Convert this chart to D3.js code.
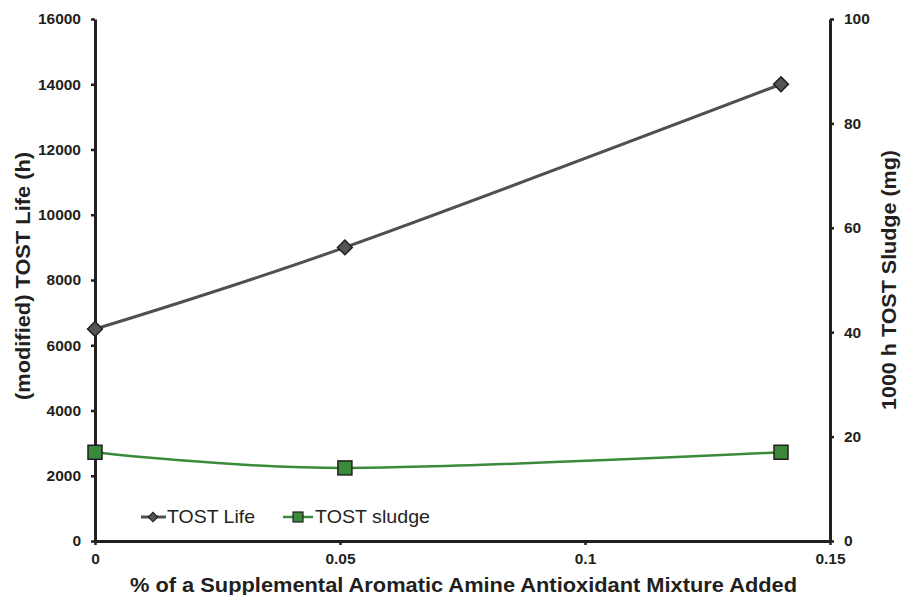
<!DOCTYPE html>
<html><head><meta charset="utf-8">
<script src="https://cdn.jsdelivr.net/npm/d3@7"></script>
<style>body{margin:0;background:#fff}svg{display:block}</style>
</head><body>
<svg id="c" width="902" height="595"></svg>
<script>
const xValues = [0, 0.051, 0.14];
const tostLife = [6500, 9000, 14000];
const tostSludge = [17, 14, 17];
const xTicks = [0, 0.05, 0.1, 0.15];
const yLeftTicks = [0, 2000, 4000, 6000, 8000, 10000, 12000, 14000, 16000];
const yRightTicks = [0, 20, 40, 60, 80, 100];

const svg = d3.select("#c");
const L = 95, R = 830, T = 19, B = 541;
const x = d3.scaleLinear().domain([0, 0.15]).range([L, R]);
const yL = d3.scaleLinear().domain([0, 16000]).range([B, T]);
const yR = d3.scaleLinear().domain([0, 100]).range([B, T]);
const font = "Liberation Sans, Arial, sans-serif";

function styleAxis(g){
  g.attr("font-size",15.5).attr("font-family",font);
  g.select(".domain").attr("stroke","#231f20").attr("stroke-width",3);
  g.selectAll(".tick line").attr("stroke","#231f20").attr("stroke-width",2.5);
  g.selectAll(".tick text").attr("font-family",font).attr("font-size",15.5).attr("font-weight","bold").attr("fill","#231f20");
}
svg.append("g").attr("transform",`translate(0,${B})`)
  .call(d3.axisBottom(x).tickValues(xTicks).tickFormat(d=>String(d)).tickSize(4).tickSizeOuter(0).tickPadding(8))
  .call(styleAxis);
svg.append("g").attr("transform",`translate(${L},0)`)
  .call(d3.axisLeft(yL).tickValues(yLeftTicks).tickFormat(d=>String(d)).tickSize(4).tickSizeOuter(0).tickPadding(10))
  .call(styleAxis);
svg.append("g").attr("transform",`translate(${R},0)`)
  .call(d3.axisRight(yR).tickValues(yRightTicks).tickFormat(d=>String(d)).tickSize(4).tickSizeOuter(0).tickPadding(10))
  .call(styleAxis);

const curve = d3.curveCardinal.tension(0);
const lifeData = xValues.map((v,i)=>[v, tostLife[i]]);
const sludgeData = xValues.map((v,i)=>[v, tostSludge[i]]);

svg.append("path").datum(lifeData)
  .attr("d", d3.line().x(d=>x(d[0])).y(d=>yL(d[1])).curve(curve))
  .attr("fill","none").attr("stroke","#505050").attr("stroke-width",3);
svg.append("path").datum(sludgeData)
  .attr("d", d3.line().x(d=>x(d[0])).y(d=>yR(d[1])).curve(curve))
  .attr("fill","none").attr("stroke","#3b8a3b").attr("stroke-width",2.5);

const diamond = d3.symbol().type(d3.symbolSquare).size(110);
svg.selectAll(".dia").data(lifeData).join("path")
  .attr("d", diamond)
  .attr("transform", d=>`translate(${x(d[0])},${yL(d[1])}) rotate(45)`)
  .attr("fill","#555555").attr("stroke","#231f20").attr("stroke-width",1.5);
svg.selectAll(".sq").data(sludgeData).join("rect")
  .attr("x", d=>x(d[0])-7).attr("y", d=>yR(d[1])-7).attr("width",14).attr("height",14)
  .attr("fill","#3b8a3b").attr("stroke","#231f20").attr("stroke-width",1.5);

// legend
const lg = svg.append("g");
lg.append("line").attr("x1",141).attr("x2",166).attr("y1",517).attr("y2",517).attr("stroke","#505050").attr("stroke-width",3);
lg.append("path").attr("d", d3.symbol().type(d3.symbolSquare).size(45)).attr("transform","translate(153,517) rotate(45)")
  .attr("fill","#555555").attr("stroke","#231f20").attr("stroke-width",1.2);
lg.append("text").attr("x",167).attr("y",523).text("TOST Life")
  .attr("font-family",font).attr("font-size",18.5).attr("fill","#231f20")
  .attr("textLength",88).attr("lengthAdjust","spacingAndGlyphs");
lg.append("line").attr("x1",283).attr("x2",313).attr("y1",517).attr("y2",517).attr("stroke","#3b8a3b").attr("stroke-width",2.5);
lg.append("rect").attr("x",293).attr("y",512).attr("width",10).attr("height",10)
  .attr("fill","#3b8a3b").attr("stroke","#231f20").attr("stroke-width",1.2);
lg.append("text").attr("x",315).attr("y",523).text("TOST sludge")
  .attr("font-family",font).attr("font-size",18.5).attr("fill","#231f20")
  .attr("textLength",115).attr("lengthAdjust","spacingAndGlyphs");

// titles
svg.append("text").attr("x",130).attr("y",592)
  .attr("font-family",font).attr("font-size",21).attr("font-weight","bold").attr("fill","#231f20")
  .attr("textLength",667).attr("lengthAdjust","spacingAndGlyphs")
  .text("% of a Supplemental Aromatic Amine Antioxidant Mixture Added");
svg.append("text").attr("transform","translate(30,400) rotate(-90)")
  .attr("font-family",font).attr("font-size",19.5).attr("font-weight","bold").attr("fill","#231f20")
  .attr("textLength",248).attr("lengthAdjust","spacingAndGlyphs")
  .text("(modified) TOST Life (h)");
svg.append("text").attr("transform","translate(896,410) rotate(-90)")
  .attr("font-family",font).attr("font-size",19.5).attr("font-weight","bold").attr("fill","#231f20")
  .attr("textLength",260).attr("lengthAdjust","spacingAndGlyphs")
  .text("1000 h TOST Sludge (mg)");
</script>
</body></html>
